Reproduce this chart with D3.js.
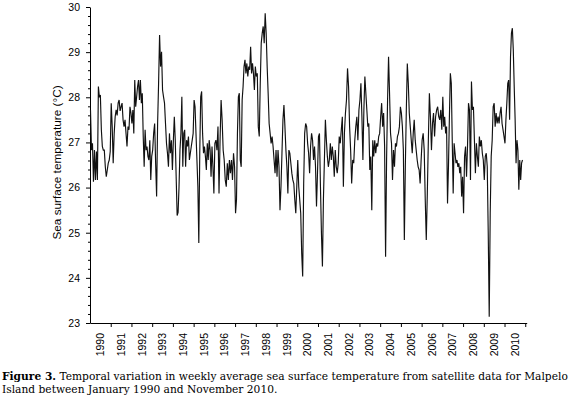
<!DOCTYPE html>
<html>
<head>
<meta charset="utf-8">
<script src="https://cdn.jsdelivr.net/npm/d3@7"></script>
<style>
body { margin: 0; background: #fff; }
svg { display: block; }
</style>
</head>
<body>
<div id="chart_sst"></div>
<script>
const width = 580,
height = 395;

// weekly SST, roughly one value per 2.5 weeks, one array per year
const sst1990 = [27.72, 26.83, 26.98, 26.13, 26.83, 26.17, 26.8, 26.17, 28.24, 28.0, 28.05, 27.28, 26.91, 26.83, 26.83, 26.46, 26.24, 26.39, 26.54, 26.61, 26.8];
const sst1991 = [27.87, 27.35, 26.54, 27.2, 27.57, 27.72, 27.6, 27.87, 27.94, 27.7, 27.79, 27.87, 27.5, 27.35, 27.5, 27.2, 26.91, 27.35, 27.28, 27.79, 27.65];
const sst1992 = [27.42, 27.72, 27.2, 28.38, 27.79, 28.01, 28.24, 28.38, 27.94, 28.38, 27.87, 28.09, 27.13, 26.46, 27.28, 26.83, 26.91, 26.69, 26.61, 27.05, 26.17, 26.69];
const sst1993 = [26.83, 27.2, 27.42, 26.54, 25.8, 27.42, 28.31, 29.38, 28.68, 29.01, 28.16, 28.01, 27.87, 27.42, 26.98, 26.76, 26.46, 27.2, 26.76, 27.05, 26.39];
const sst1994 = [27.05, 27.57, 27.05, 26.2, 25.38, 25.45, 26.02, 26.83, 27.2, 28.01, 26.46, 27.2, 27.28, 26.46, 27.05, 26.91, 27.13, 26.61, 26.76, 26.91, 27.05, 27.2];
const sst1995 = [27.94, 27.79, 27.2, 26.61, 26.02, 24.77, 26.76, 28.01, 28.13, 27.2, 26.76, 26.91, 26.69, 26.39, 26.98, 26.61, 27.05, 26.83, 26.24, 26.91, 26.46, 25.87];
const sst1996 = [26.98, 27.05, 26.83, 27.35, 25.87, 27.05, 27.94, 27.5, 26.83, 26.61, 26.17, 26.02, 26.54, 26.17, 26.61, 26.32, 26.61, 26.17, 26.76, 26.46];
const sst1997 = [25.43, 25.73, 27.2, 28.01, 28.09, 26.61, 26.46, 27.94, 28.24, 28.68, 28.83, 28.53, 28.75, 28.46, 28.68, 28.61, 29.12, 28.53, 28.75, 28.53, 28.16, 28.68];
const sst1998 = [28.46, 28.53, 27.35, 27.13, 28.31, 29.2, 29.42, 29.57, 29.2, 29.86, 29.42, 28.68, 28.09, 27.42, 27.2, 26.98, 27.13, 26.91, 26.61, 26.32, 26.83];
const sst1999 = [26.24, 26.83, 26.46, 25.5, 26.02, 26.76, 27.5, 27.83, 27.35, 26.83, 26.46, 25.87, 26.83, 26.76, 26.54, 26.32, 26.17, 26.09, 25.73, 25.43, 26.02];
const sst2000 = [26.61, 26.02, 25.73, 25.43, 24.54, 24.03, 26.09, 27.2, 27.42, 27.35, 26.98, 26.76, 26.32, 26.91, 27.2, 27.05, 26.61, 26.91, 26.46, 25.58, 26.32];
const sst2001 = [27.13, 27.2, 26.02, 24.99, 24.25, 25.73, 26.61, 27.5, 27.05, 26.69, 26.46, 26.61, 26.98, 26.61, 26.91, 26.69, 26.24, 26.83, 26.46, 26.32, 26.54];
const sst2002 = [27.13, 26.98, 27.28, 27.57, 26.02, 27.2, 27.65, 27.94, 28.64, 28.24, 27.35, 26.83, 26.09, 26.61, 26.54, 27.05, 27.35, 27.57, 27.05, 27.72];
const sst2003 = [27.94, 28.31, 27.57, 26.61, 27.72, 28.46, 28.09, 27.72, 27.35, 27.42, 26.39, 26.69, 25.5, 27.05, 26.69, 27.05, 26.76, 26.98, 26.91, 27.13, 27.2];
const sst2004 = [27.57, 27.87, 27.35, 27.65, 26.91, 24.47, 26.61, 27.94, 28.9, 28.09, 27.2, 26.98, 26.17, 26.83, 26.46, 26.98, 26.91, 27.13, 27.2, 27.35, 27.79];
const sst2005 = [27.65, 27.35, 26.83, 24.84, 26.46, 27.72, 28.75, 28.31, 27.65, 27.35, 27.05, 26.76, 27.2, 27.5, 27.05, 26.83, 26.61, 26.46, 26.39, 26.09, 26.61];
const sst2006 = [27.05, 27.2, 26.83, 25.73, 24.84, 25.87, 27.05, 28.09, 27.57, 26.83, 27.42, 27.65, 27.13, 27.57, 27.72, 27.79, 27.57, 27.5, 27.72, 27.28];
const sst2007 = [28.01, 27.35, 27.57, 27.2, 27.35, 25.65, 26.46, 27.57, 28.53, 28.31, 27.05, 25.87, 26.98, 26.76, 26.54, 26.61, 26.46, 26.54, 26.32, 26.46, 25.8, 26.24];
const sst2008 = [25.43, 26.69, 26.91, 26.24, 26.91, 27.87, 27.72, 26.17, 28.35, 27.72, 27.79, 27.05, 26.32, 26.98, 26.69, 26.46, 27.13, 26.91, 27.05, 26.76, 26.61];
const sst2009 = [26.17, 26.69, 26.76, 26.46, 24.99, 23.14, 25.43, 26.69, 27.05, 27.79, 27.87, 27.35, 27.65, 27.42, 27.57, 27.42, 27.65, 27.79, 27.42, 27.28, 27.13];
const sst2010 = [26.98, 27.5, 27.87, 28.31, 28.38, 27.5, 28.9, 29.42, 29.53, 29.05, 28.24, 27.5, 26.54, 27.05, 26.83, 25.95, 26.61, 26.17, 26.54, 26.61];

const years = d3.range(1990, 2011);
const lastYearFraction = 0.89; // series stops in November 2010
const yTicks = d3.range(23, 31);
const caption1 = "Temporal variation in weekly average sea surface temperature from satellite data for Malpelo";
const caption2 = "Island between January 1990 and November 2010.";

const sstByYear = [sst1990, sst1991, sst1992, sst1993, sst1994, sst1995, sst1996, sst1997, sst1998, sst1999, sst2000,
  sst2001, sst2002, sst2003, sst2004, sst2005, sst2006, sst2007, sst2008, sst2009, sst2010];

const series = sstByYear.flatMap((vals, i) => {
  const span = i === sstByYear.length - 1 ? lastYearFraction : 1;
  return vals.map((v, j) => ({t: years[i] + (j + 0.5) / vals.length * span, v: v}));
});

const svg = d3.select("#chart_sst")
  .append("svg")
  .attr("width", width)
  .attr("height", height)
  .attr("viewBox", [0, 0, width, height]);

const x = d3.scaleLinear([1990, 2011.07], [90, 526.7]);
const y = d3.scaleLinear([23, 30], [323, 7]);

// y axis, majors with labels, minors every 0.2
svg.append("g")
  .attr("transform", "translate(90,0)")
  .call(d3.axisLeft(y).tickValues(yTicks).tickSize(4).tickPadding(6).tickSizeOuter(0).tickFormat(d3.format("d")))
  .call(g => g.selectAll("text").attr("font-family", "Arial, 'Liberation Sans', sans-serif").attr("font-size", 10.5).attr("fill", "#000"))
  .call(g => g.selectAll("line, path").attr("stroke", "#000"));

svg.append("g")
  .attr("transform", "translate(90,0)")
  .call(d3.axisLeft(y).tickValues(d3.range(0, 35).map(i => 23 + i * 0.2).filter(d => Math.abs(d - Math.round(d)) > 0.01)).tickSize(2).tickFormat(""))
  .call(g => g.select(".domain").remove())
  .call(g => g.selectAll("line").attr("stroke", "#000"));

// x axis, ticks at year boundaries, labels in the middle of each year
svg.append("g")
  .attr("transform", "translate(0,323)")
  .call(d3.axisBottom(x).tickValues(d3.range(1991, 2012)).tickSize(4).tickSizeOuter(0).tickFormat(""))
  .call(g => g.selectAll("line, path").attr("stroke", "#000"));

svg.append("g")
  .selectAll("text")
  .data(years)
  .join("text")
  .attr("transform", d => `translate(${x(d + 0.5)},333) rotate(-90)`)
  .attr("text-anchor", "end")
  .attr("dy", "0.35em")
  .attr("font-family", "Arial, 'Liberation Sans', sans-serif")
  .attr("font-size", 10.5)
  .text(d => d);

svg.append("path")
  .datum(series)
  .attr("fill", "none")
  .attr("stroke", "#111")
  .attr("stroke-width", 1.15)
  .attr("stroke-linejoin", "miter")
  .attr("d", d3.line().x(d => x(d.t)).y(d => y(d.v)));

svg.append("text")
  .attr("transform", "translate(61,162.5) rotate(-90)")
  .attr("text-anchor", "middle")
  .attr("font-family", "Arial, 'Liberation Sans', sans-serif")
  .attr("font-size", 11.8)
  .text("Sea surface temperature (°C)");

// caption
const cap = svg.append("g")
  .attr("font-family", "'DejaVu Serif', serif")
  .attr("font-size", 11);

const line1 = cap.append("text")
  .attr("x", 2)
  .attr("y", 380);
line1.append("tspan").attr("font-weight", "bold").text("Figure 3.");
line1.append("tspan").text(" " + caption1);

const line2 = cap.append("text")
  .attr("x", 2)
  .attr("y", 393)
  .text(caption2);

// fit first caption line to the width it has in the figure
const fit = 567 / line1.node().getComputedTextLength();
cap.attr("font-size", 11 * fit);
</script>
</body>
</html>
